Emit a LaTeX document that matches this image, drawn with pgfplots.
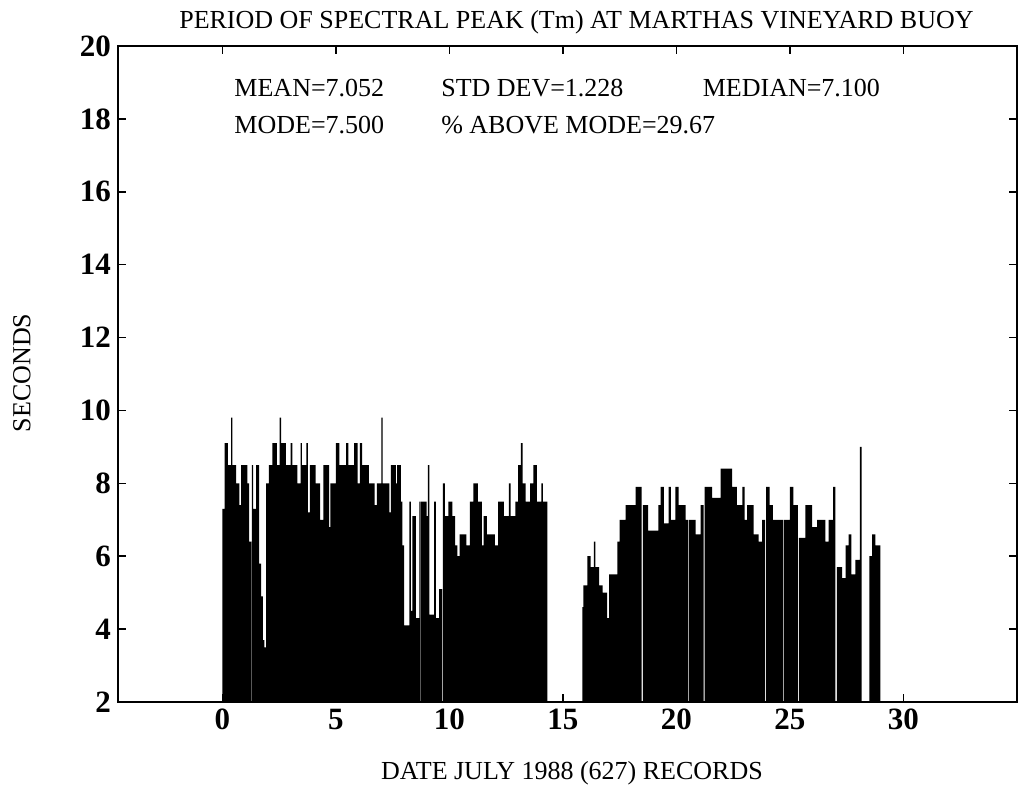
\documentclass[border=0pt]{standalone}
\usepackage{fontspec}
\setmainfont{Liberation Serif}
\usepackage{pgfplots}
\pgfplotsset{compat=1.18}

% step outline of the Tm record: each row holds from its x to the next row's x
\pgfplotstableread{
d     tm
0.00  7.3
0.10  9.1
0.24  8.5
0.38  9.8
0.44  8.5
0.60  8.0
0.75  7.4
0.82  8.5
1.10  8.0
1.18  6.4
1.27  2.0
1.30  8.5
1.35  7.3
1.48  8.5
1.62  5.8
1.70  4.9
1.78  3.7
1.85  3.5
1.92  8.0
2.05  8.5
2.20  9.1
2.40  8.5
2.52  9.8
2.58  9.1
2.80  8.5
3.00  9.1
3.08  8.5
3.30  8.0
3.44  9.1
3.50  8.5
3.70  9.1
3.76  7.2
3.85  8.5
4.10  8.0
4.30  7.0
4.45  8.5
4.70  6.8
4.76  8.0
5.00  9.1
5.15  8.5
5.45  9.1
5.55  8.5
5.80  9.1
5.95  8.0
6.05  9.1
6.15  8.5
6.45  8.0
6.70  7.4
6.80  8.0
7.00  9.8
7.06  8.0
7.35  7.2
7.42  8.5
7.64  8.0
7.70  8.5
7.86  7.5
7.93  6.3
8.00  4.1
8.23  7.5
8.30  4.5
8.37  7.1
8.52  4.3
8.67  7.5
8.73  2.0
8.75  7.5
9.00  7.1
9.05  8.5
9.12  4.4
9.33  7.5
9.40  4.3
9.55  5.1
9.68  2.0
9.71  8.0
9.80  7.1
9.95  7.5
10.13 7.1
10.25 6.3
10.35 6.0
10.45 6.6
10.75 6.3
10.90 7.5
11.05 8.0
11.25 7.5
11.43 6.3
11.50 7.1
11.65 6.6
12.00 6.3
12.14 7.5
12.40 7.1
12.62 8.0
12.70 7.1
12.90 7.5
13.02 8.5
13.15 9.1
13.22 8.0
13.35 7.5
13.55 8.0
13.70 8.5
13.85 7.5
14.05 8.0
14.12 7.5
14.31 2.0
15.85 4.6
15.90 5.2
16.07 6.0
16.22 5.7
16.36 6.4
16.43 5.7
16.59 5.2
16.75 5.0
16.95 4.3
17.03 5.5
17.40 6.4
17.50 7.0
17.76 7.4
18.20 7.9
18.47 2.0
18.52 7.4
18.75 6.7
19.20 7.4
19.30 7.9
19.45 6.9
19.65 7.9
19.75 7.0
19.95 7.9
20.10 7.4
20.40 7.0
20.52 2.0
20.56 7.0
20.84 6.6
21.06 7.4
21.20 2.0
21.24 7.9
21.57 7.6
21.94 8.4
22.45 7.9
22.66 7.4
22.90 7.9
23.00 7.0
23.11 7.4
23.40 6.6
23.62 6.4
23.77 7.0
23.90 2.0
23.95 7.9
24.10 7.4
24.25 7.0
24.70 2.0
24.73 7.0
25.00 7.9
25.15 7.4
25.35 2.0
25.39 6.5
25.68 7.4
25.97 6.8
26.19 7.0
26.56 6.4
26.70 7.0
26.90 7.9
27.00 2.0
27.06 5.7
27.30 5.4
27.45 6.3
27.58 6.6
27.70 5.5
27.88 5.9
28.08 9.0
28.16 2.0
28.50 6.0
28.62 6.6
28.76 6.3
28.98 2.0
}\tmdata

\begin{document}
\begin{tikzpicture}
\begin{axis}[
  scale only axis,
  width=449.5pt,
  height=328pt,
  xmin=-4.6, xmax=35,
  ymin=2, ymax=20,
  xtick={0,5,...,30},
  ytick={2,4,...,20},
  tick align=inside,
  major tick length=4pt,
  axis line style={line width=0.8pt},
  every tick/.style={black, line width=0.8pt},
  ticklabel style={font=\fontsize{15.5}{17}\selectfont\bfseries},
  /pgf/number format/assume math mode=true,
  axis on top,
]
\addplot[ybar interval, fill=black, draw=none] table[x=d, y=tm] {\tmdata};
\node[anchor=west, font=\fontsize{13}{15}\selectfont] at (axis cs:0.22,18.85) {MEAN=7.052};
\node[anchor=west, font=\fontsize{13}{15}\selectfont] at (axis cs:9.33,18.85) {STD DEV=1.228};
\node[anchor=west, font=\fontsize{13}{15}\selectfont] at (axis cs:20.85,18.85) {MEDIAN=7.100};
\node[anchor=west, font=\fontsize{13}{15}\selectfont] at (axis cs:0.22,17.83) {MODE=7.500};
\node[anchor=west, font=\fontsize{13}{15}\selectfont] at (axis cs:9.33,17.83) {\% ABOVE MODE=29.67};
\end{axis}
\node[font=\fontsize{13}{15}\selectfont] at (229.25pt,340pt) {PERIOD OF SPECTRAL PEAK (Tm) AT MARTHAS VINEYARD BUOY};
\node[font=\fontsize{13}{15}\selectfont, rotate=90] at (-48pt,164.5pt) {SECONDS};
\node[font=\fontsize{13}{15}\selectfont] at (227pt,-35.5pt) {DATE JULY 1988 (627) RECORDS};
\useasboundingbox (-59pt,-50pt) rectangle (450pt,351pt);
\end{tikzpicture}
\end{document}
